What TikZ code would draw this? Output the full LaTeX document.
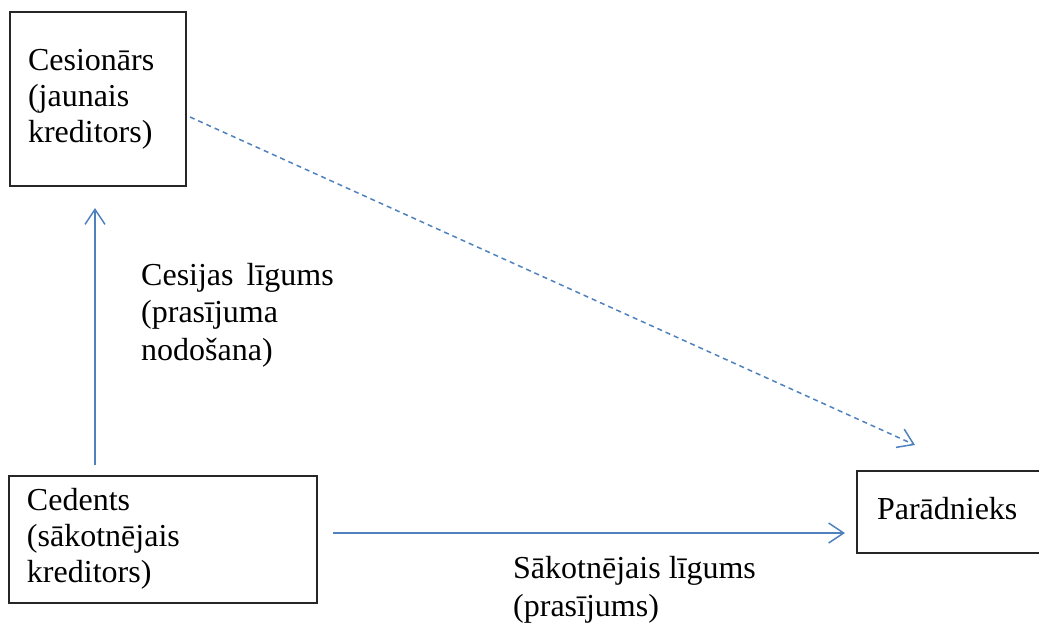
\documentclass[tikz,border=0pt]{standalone}
\usepackage{fontspec}
\setmainfont{Liberation Serif}
\usetikzlibrary{arrows.meta}
\definecolor{arrowblue}{RGB}{79,129,189}
\begin{document}
\begin{tikzpicture}[x=1pt,y=-1pt,
  box/.style={draw=black!85, line width=1.6pt, outer sep=0pt, inner xsep=18pt, inner ysep=0pt,
    font=\fontsize{32}{36}\selectfont, align=left},
  arr/.style={draw=arrowblue, line width=1.5pt,
    -{Straight Barb[length=15pt,width=20pt,line width=1.5pt]}},
  lab/.style={inner sep=0pt, anchor=base west, font=\fontsize{32}{37.5}\selectfont}]
\useasboundingbox (0,0) rectangle (1039,622);
\node[box, minimum width=176pt, minimum height=174pt, text width=140pt] (ces) at (98,99)
  {\raisebox{3.5pt}{\begin{tabular}[t]{@{}l@{}}Cesionārs\\(jaunais\\kreditors)\end{tabular}}};
\node[box, minimum width=308pt, minimum height=127pt, text width=272pt] (ced) at (163,539.5)
  {\raisebox{-4.2pt}{\begin{tabular}[t]{@{}l@{}}Cedents\\(sākotnējais\\kreditors)\end{tabular}}};
\node[box, inner xsep=20pt, minimum width=213pt, minimum height=82pt, text width=173pt] (par) at (963.5,512)
  {\raisebox{-5.7pt}{\begin{tabular}[t]{@{}l@{}}Parādnieks\end{tabular}}};
\node[lab] (l1) at (141,285)
  {\begin{tabular}[t]{@{}l@{}}Cesijas\hspace{13pt}līgums\\(prasījuma\\nodošana)\end{tabular}};
\node[lab, font=\fontsize{32}{38}\selectfont] (l2) at (513,578)
  {\begin{tabular}[t]{@{}l@{}}Sākotnējais līgums\\(prasījums)\end{tabular}};
\draw[arr] ([xshift=86pt,yshift=11pt]ced.north west) -- ([xshift=85pt,yshift=-22pt]ces.south west);
\draw[arr] ([xshift=16pt,yshift=6.5pt]ced.east) -- ([xshift=-12pt,yshift=-21pt]par.west);
\draw[arr, dash pattern=on 5pt off 4pt] ([xshift=4pt,yshift=-18pt]ces.east) -- ([xshift=58pt,yshift=26pt]par.north west);
\end{tikzpicture}
\end{document}
